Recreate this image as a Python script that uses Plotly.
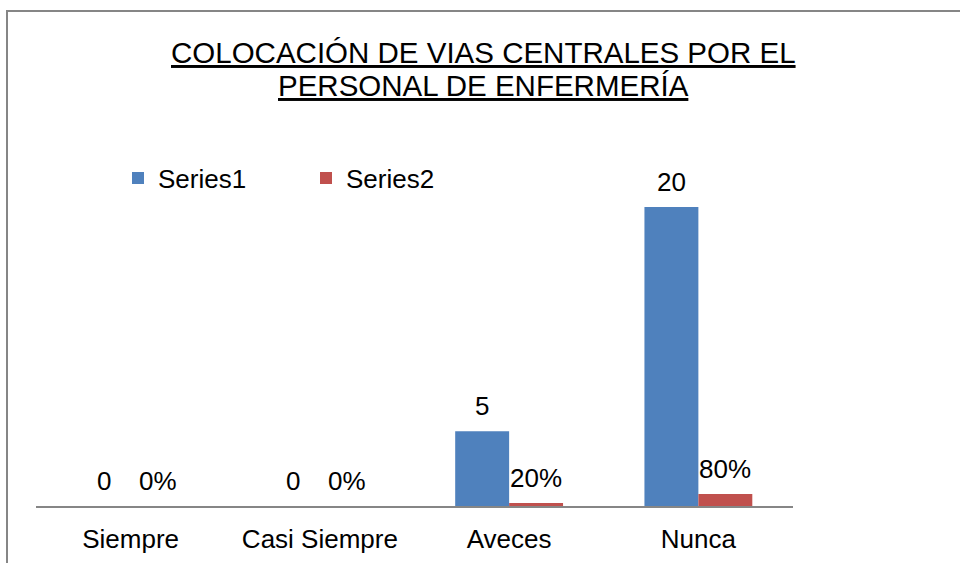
import plotly.graph_objects as go

categories = ["Siempre", "Casi Siempre", "Aveces", "Nunca"]
series1 = [0, 0, 5, 20]
series2 = [0, 0, 0.2, 0.8]
series_names = ["Series1", "Series2"]
title_lines = ["COLOCACIÓN DE VIAS CENTRALES POR EL", "PERSONAL DE ENFERMERÍA"]

W, H = 960, 563
ML, MR, MT, MB = 36, 167, 207, 57
PW, PH = W - ML - MR, H - MT - MB

def px_x(p):
    return (p - ML) / PW

def px_y(p):
    return (H - MB - p) / PH

FONT = "Liberation Sans, Arial, sans-serif"
BARGAP = 0.43
# half bar width in px (two bars per category group)
HALF = PW / len(categories) * (1 - BARGAP) / 4

fig = go.Figure()
fig.add_trace(go.Bar(
    x=categories, y=series1, name=series_names[0],
    marker=dict(color="#4F81BD", line=dict(width=0)),
))
fig.add_trace(go.Bar(
    x=categories, y=series2, name=series_names[1],
    marker=dict(color="#C0504D", line=dict(width=0)),
))

annotations = []
for c, v in zip(categories, series1):
    annotations.append(dict(
        x=c, y=v, xref="x", yref="y", text=str(v), showarrow=False,
        xanchor="center", yanchor="bottom", xshift=-HALF, yshift=8,
        font=dict(size=26, family=FONT, color="black"),
    ))
for c, v in zip(categories, series2):
    annotations.append(dict(
        x=c, y=v, xref="x", yref="y", text=f"{v:.0%}", showarrow=False,
        xanchor="center", yanchor="bottom", xshift=HALF, yshift=8,
        font=dict(size=26, family=FONT, color="black"),
    ))

title_ys = [53, 85]
for line, yc in zip(title_lines, title_ys):
    annotations.append(dict(
        text="<u>" + line + "</u>",
        x=px_x(483.5), y=px_y(yc), xref="paper", yref="paper",
        xanchor="center", yanchor="middle", showarrow=False,
        font=dict(size=29.5, family=FONT, color="black"),
    ))

fig.update_layout(
    width=W, height=H,
    margin=dict(l=ML, r=MR, t=MT, b=MB, autoexpand=False),
    paper_bgcolor="white", plot_bgcolor="white",
    barmode="group", bargap=BARGAP, bargroupgap=0,
    font=dict(family=FONT, size=26, color="black"),
    showlegend=True,
    legend=dict(
        orientation="h", x=px_x(118), y=px_y(178), xanchor="left", yanchor="middle",
        font=dict(size=26, family=FONT, color="black"),
        entrywidth=143, entrywidthmode="pixels", bgcolor="rgba(0,0,0,0)",
        itemwidth=30,
    ),
    xaxis=dict(
        showline=True, linecolor="#868686", linewidth=2, ticks="",
        showgrid=False, zeroline=False, tickfont=dict(size=26, color="black"),
        ticklabelstandoff=9,
    ),
    yaxis=dict(range=[0, 20], visible=False, showgrid=False, zeroline=False),
    annotations=annotations,
    shapes=[dict(
        type="rect", xref="paper", yref="paper",
        x0=px_x(7), x1=px_x(975), y0=px_y(580), y1=px_y(11),
        line=dict(color="#868686", width=2), fillcolor="rgba(0,0,0,0)",
    )],
)

fig.write_html(
    "out.html",
    config={"displayModeBar": False},
    post_script="document.body.style.margin='0px';document.body.style.overflow='hidden';",
)
